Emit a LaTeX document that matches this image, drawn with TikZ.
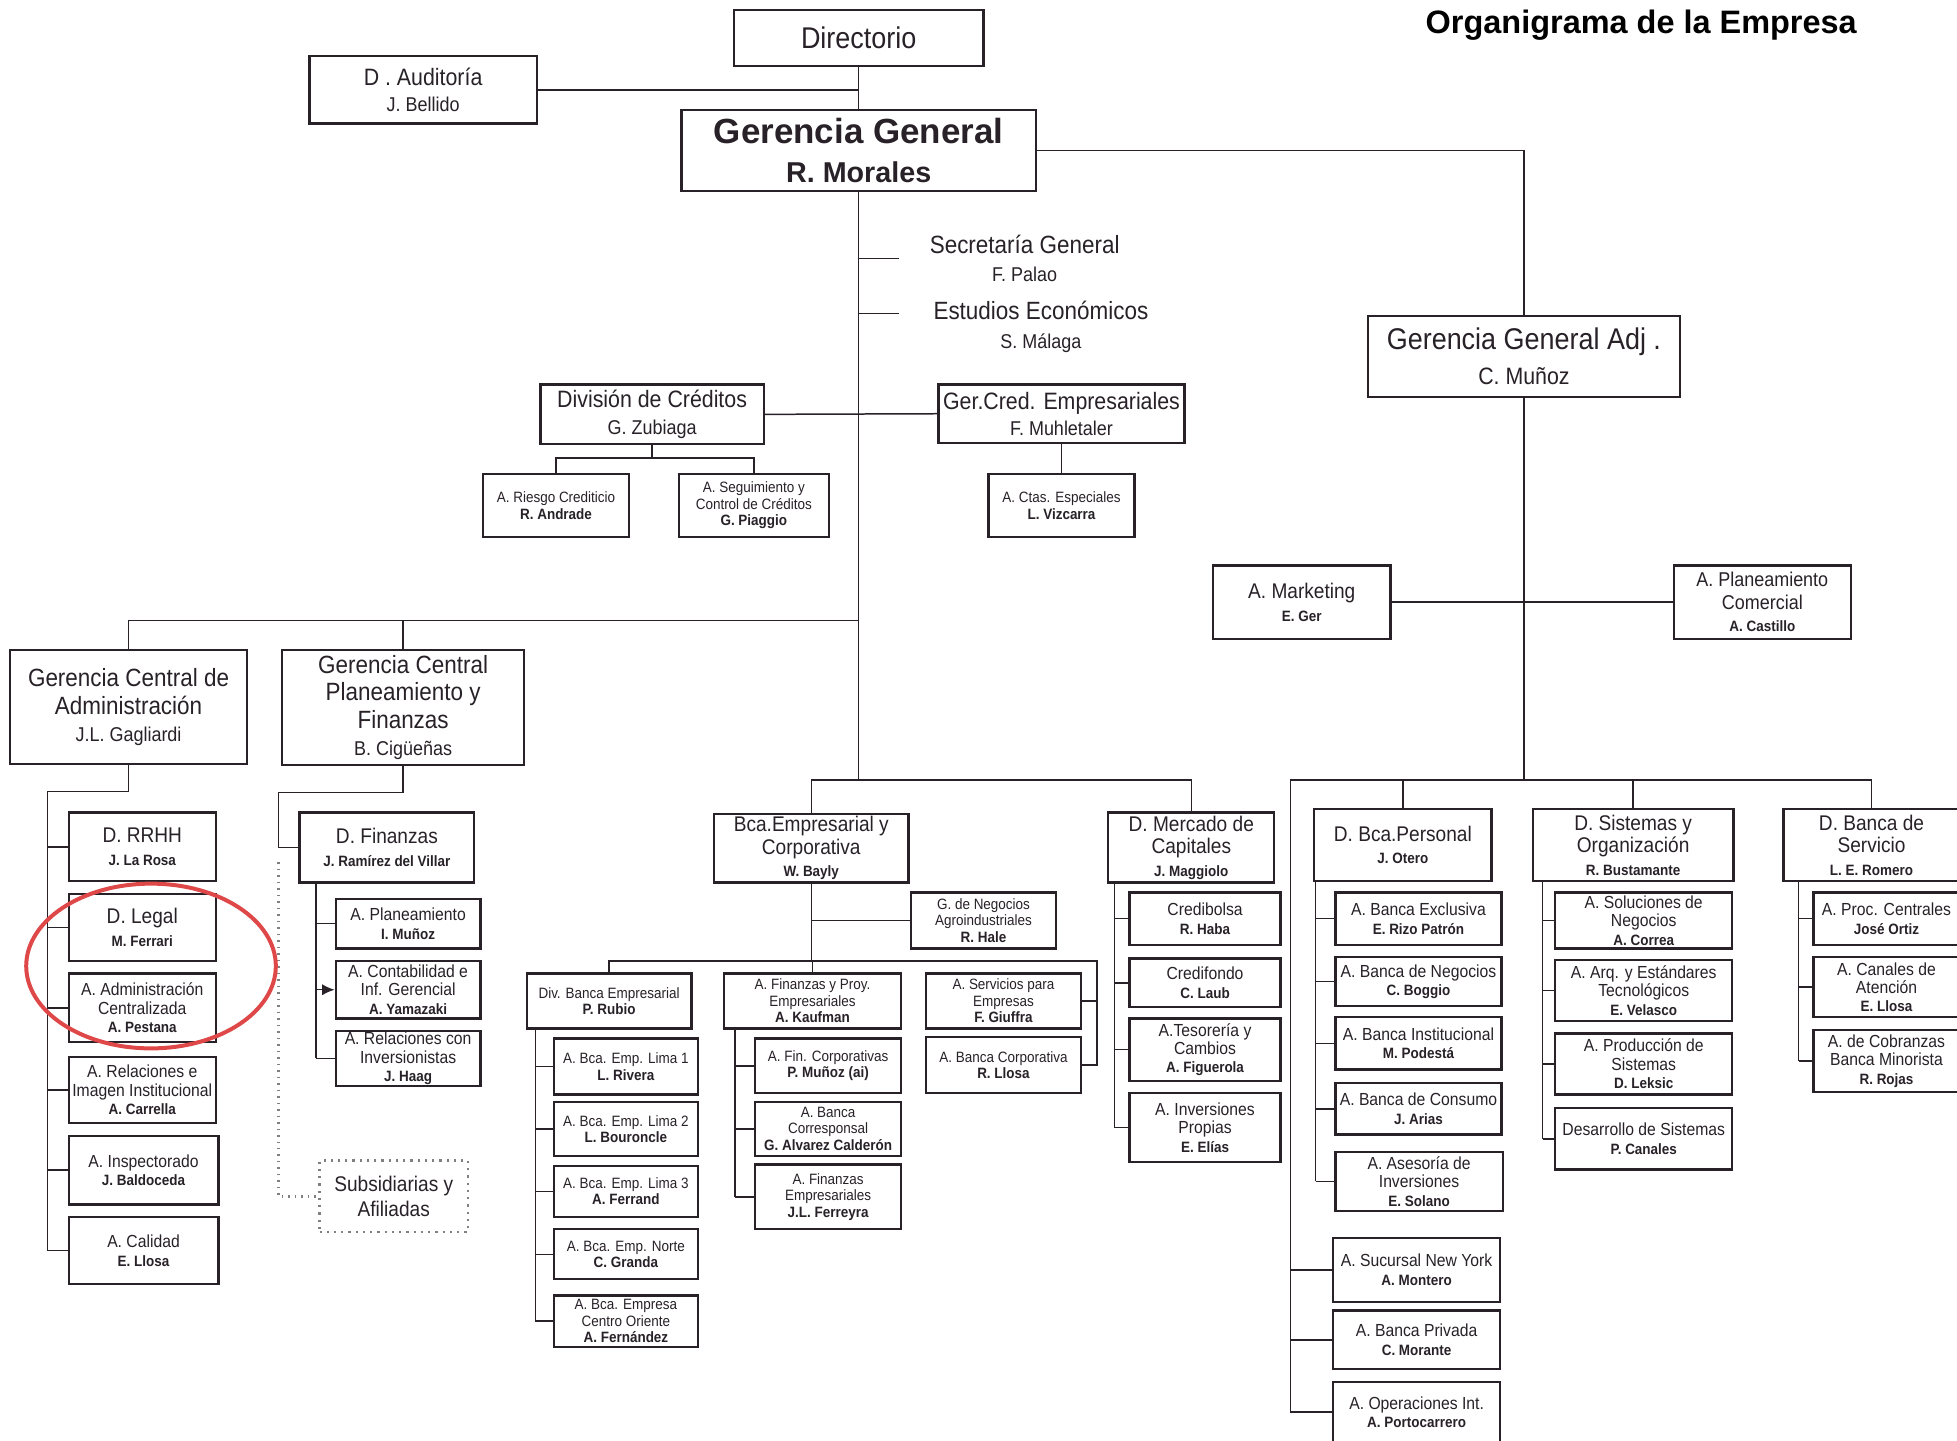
\documentclass[tikz,border=0pt]{standalone}
\usepackage{fontspec}
\setmainfont{Liberation Sans}[FakeStretch=0.9]
\newfontfamily\widefont{Liberation Sans}
\usetikzlibrary{arrows.meta, positioning}
\definecolor{ink}{RGB}{40,34,40}
\definecolor{markred}{RGB}{222,72,72}
\newcommand\fs[2]{\fontsize{#1}{#2}\selectfont}
\newcommand\who[1]{{\bfseries\fs{6}{7}#1}}

\begin{document}
\begin{tikzpicture}[x=0.5pt, y=-0.5pt,
  box/.style={draw=ink, line width=0.9pt, fill=white, inner sep=0pt, align=center, text=ink},
  wh/.style 2 args={minimum width=#1, minimum height=#2},
  lvltop/.style={box, font=\fs{12}{14}},
  lvlhead/.style={box, font=\fs{10}{11}},
  lvlmid/.style={box, font=\fs{9.5}{10.5}},
  lvldept/.style={box, font=\fs{8.5}{9}},
  lvlsub/.style={box, font=\fs{7}{7.4}},
  lvltiny/.style={box, font=\fs{6}{6.6}},
  staff/.style={text=ink, align=center, font=\fs{10}{11.5}},
  wire/.style={draw=ink, line width=0.6pt},
]
\useasboundingbox (0,0) rectangle (1568,1154);

\node[font=\widefont\bfseries\fs{13}{15}, anchor=base] (title) at (1315,27) {Organigrama de la Empresa};

% cabeza
\node[lvltop, wh={100pt}{22.5pt}] (dir) at (688,30.5) {Directorio};
\node[lvlmid, wh={91pt}{27pt}] (aud) at (339,72) {D . Auditoría\\{\fs{8}{9}J. Bellido}};
\node[box, wh={142pt}{32.5pt}, font=\widefont\bfseries\fs{14}{15.5}] (gg) at (688,120.5) {Gerencia General\\{\fs{11.5}{13}R. Morales}};
\node[staff] (secg) at (821,207) {Secretaría General\\{\fs{8}{9.5}F. Palao}};
\node[staff] (estu) at (834,262) {Estudios Económicos\\{\fs{8}{9.5}S. Málaga}};

% creditos
\node[lvlmid, wh={89.5pt}{24pt}] (divc) at (522.5,332) {División de Créditos\\{\fs{8}{9}G. Zubiaga}};
\node[lvlmid, wh={98.5pt}{23.5pt}] (gcred) at (850.5,331.5) {Ger.Cred. Empresariales\\{\fs{8}{9}F. Muhletaler}};
\node[lvltiny, wh={58.5pt}{25pt}] (riesgo) at (445.5,405) {A. Riesgo Crediticio\\\who{R. Andrade}};
\node[lvltiny, wh={60pt}{25pt}] (seguim) at (604,405) {A. Seguimiento y\\Control de Créditos\\\who{G. Piaggio}};
\node[lvltiny, wh={58.5pt}{25pt}] (ctas) at (850.5,405) {A. Ctas. Especiales\\\who{L. Vizcarra}};

% gerencia adjunta
\node[lvltop, wh={125pt}{32.5pt}] (gga) at (1221,285.5) {Gerencia General Adj .\\{\fs{9.5}{11}C. Muñoz}};
\node[lvldept, wh={71pt}{29.5pt}] (mkt) at (1043,482.5) {A. Marketing\\\who{E. Ger}};
\node[lvldept, wh={71pt}{29.5pt}, font=\fs{8}{9}] (plcom) at (1412,482.5) {A. Planeamiento\\Comercial\\\who{A. Castillo}};

% gerencias centrales
\node[lvlhead, wh={95pt}{45.5pt}] (gcadm) at (103,566.5) {Gerencia Central de\\Administración\\{\fs{8}{9}J.L. Gagliardi}};
\node[lvlhead, wh={97pt}{46pt}] (gcplan) at (323,567) {Gerencia Central\\Planeamiento y\\Finanzas\\{\fs{8}{9}B. Cigüeñas}};

\node[lvldept, wh={59pt}{27.5pt}] (rrhh) at (114,678.5) {D. RRHH\\\who{J. La Rosa}};
\node[lvldept, wh={59pt}{27pt}] (legal) at (114,743) {D. Legal\\\who{M. Ferrari}};
\node[lvlsub, wh={59pt}{27.5pt}] (admc) at (114,807.5) {A. Administración\\Centralizada\\\who{A. Pestana}};
\node[lvlsub, wh={59pt}{26.5pt}] (relim) at (114,873.5) {A. Relaciones e\\Imagen Institucional\\\who{A. Carrella}};
\node[lvlsub, wh={60pt}{27.5pt}] (insp) at (115,937.5) {A. Inspectorado\\\who{J. Baldoceda}};
\node[lvlsub, wh={60pt}{27pt}] (cal) at (115,1002) {A. Calidad\\\who{E. Llosa}};

\node[lvldept, wh={70pt}{28pt}] (fin) at (310,679) {D. Finanzas\\\who{J. Ramírez del Villar}};
\node[lvlsub, wh={58pt}{20pt}] (aplan) at (327,740) {A. Planeamiento\\\who{I. Muñoz}};
\node[lvlsub, wh={58pt}{23pt}] (acont) at (327,793) {A. Contabilidad e\\Inf. Gerencial\\\who{A. Yamazaki}};
\node[lvlsub, wh={58pt}{22pt}] (arel) at (327,848) {A. Relaciones con\\Inversionistas\\\who{J. Haag}};
\node[box, draw=gray, dotted, line width=1pt, wh={59.5pt}{28.5pt}, font=\fs{8.5}{10}] (subs) at (315.5,958.5) {Subsidiarias y\\Afiliadas};

% banca empresarial
\node[lvldept, wh={78pt}{27.5pt}] (bca) at (650,679.5) {Bca.Empresarial y\\Corporativa\\\who{W. Bayly}};
\node[lvltiny, wh={58pt}{22.5pt}] (agro) at (788,737.5) {G. de Negocios\\Agroindustriales\\\who{R. Hale}};
\node[lvltiny, wh={66pt}{22pt}] (divbe) at (488,802) {Div. Banca Empresarial\\\who{P. Rubio}};
\node[lvltiny, wh={71pt}{22pt}] (afin) at (651,802) {A. Finanzas y Proy.\\Empresariales\\\who{A. Kaufman}};
\node[lvltiny, wh={62pt}{22pt}] (aserv) at (804,802) {A. Servicios para\\Empresas\\\who{F. Giuffra}};
\node[lvltiny, wh={62pt}{22.5pt}] (abcorp) at (804,853.5) {A. Banca Corporativa\\\who{R. Llosa}};
\node[lvltiny, wh={57.5pt}{22.5pt}] (lima1) at (501.5,854.5) {A. Bca. Emp. Lima 1\\\who{L. Rivera}};
\node[lvltiny, wh={57.5pt}{21.5pt}] (lima2) at (501.5,904.5) {A. Bca. Emp. Lima 2\\\who{L. Bouroncle}};
\node[lvltiny, wh={57.5pt}{20.5pt}] (lima3) at (501.5,954.5) {A. Bca. Emp. Lima 3\\\who{A. Ferrand}};
\node[lvltiny, wh={57.5pt}{20pt}] (norte) at (501.5,1005) {A. Bca. Emp. Norte\\\who{C. Granda}};
\node[lvltiny, wh={57.5pt}{20.5pt}] (centro) at (501.5,1058.5) {A. Bca. Empresa\\Centro Oriente\\\who{A. Fernández}};
\node[lvltiny, wh={58.5pt}{22pt}] (fincorp) at (663.5,854) {A. Fin. Corporativas\\\who{P. Muñoz (ai)}};
\node[lvltiny, wh={58.5pt}{21.5pt}] (corresp) at (663.5,904.5) {A. Banca\\Corresponsal\\\who{G. Alvarez Calderón}};
\node[lvltiny, wh={58.5pt}{26pt}] (finemp) at (663.5,959) {A. Finanzas\\Empresariales\\\who{J.L. Ferreyra}};

% mercado de capitales
\node[lvldept, wh={66.5pt}{28pt}] (dmc) at (954.5,679) {D. Mercado de\\Capitales\\\who{J. Maggiolo}};
\node[lvlsub, wh={60.5pt}{21pt}] (credb) at (965.5,736) {Credibolsa\\\who{R. Haba}};
\node[lvlsub, wh={60.5pt}{19.5pt}] (credf) at (965.5,787.5) {Credifondo\\\who{C. Laub}};
\node[lvlsub, wh={60.5pt}{25pt}] (tesor) at (965.5,841) {A.Tesorería y\\Cambios\\\who{A. Figuerola}};
\node[lvlsub, wh={60.5pt}{27.5pt}] (inver) at (965.5,903.5) {A. Inversiones\\Propias\\\who{E. Elías}};

% banca personal
\node[lvldept, wh={71pt}{29pt}] (dbp) at (1124,677) {D. Bca.Personal\\\who{J. Otero}};
\node[lvlsub, wh={66.5pt}{21pt}] (bexcl) at (1136.5,736) {A. Banca Exclusiva\\\who{E. Rizo Patrón}};
\node[lvlsub, wh={66.5pt}{19.5pt}] (bneg) at (1136.5,786.5) {A. Banca de Negocios\\\who{C. Boggio}};
\node[lvlsub, wh={66.5pt}{21pt}] (binst) at (1136.5,836) {A. Banca Institucional\\\who{M. Podestá}};
\node[lvlsub, wh={66.5pt}{20.5pt}] (bcons) at (1136.5,888.5) {A. Banca de Consumo\\\who{J. Arias}};
\node[lvlsub, wh={67pt}{23.5pt}] (aseso) at (1137,946.5) {A. Asesoría de\\Inversiones\\\who{E. Solano}};
\node[lvlsub, wh={67pt}{25.5pt}] (nyork) at (1135,1017.5) {A. Sucursal New York\\\who{A. Montero}};
\node[lvlsub, wh={67pt}{23.5pt}] (bpriv) at (1135,1073.5) {A. Banca Privada\\\who{C. Morante}};
\node[lvlsub, wh={67pt}{24.5pt}] (opint) at (1135,1131.5) {A. Operaciones Int.\\\who{A. Portocarrero}};

% sistemas
\node[lvldept, wh={80.5pt}{29pt}] (dsis) at (1308.5,677) {D. Sistemas y\\Organización\\\who{R. Bustamante}};
\node[lvlsub, wh={71pt}{22.5pt}] (asol) at (1317,737.5) {A. Soluciones de\\Negocios\\\who{A. Correa}};
\node[lvlsub, wh={71pt}{24.5pt}] (aarq) at (1317,793.5) {A. Arq. y Estándares\\Tecnológicos\\\who{E. Velasco}};
\node[lvlsub, wh={71pt}{24.5pt}] (aprod) at (1317,852.5) {A. Producción de\\Sistemas\\\who{D. Leksic}};
\node[lvlsub, wh={71pt}{24.5pt}] (desa) at (1317,912.5) {Desarrollo de Sistemas\\\who{P. Canales}};

% banca de servicio
\node[lvldept, wh={70.5pt}{29pt}] (dbs) at (1499.5,677) {D. Banca de\\Servicio\\\who{L. E. Romero}};
\node[lvlsub, wh={58.5pt}{21pt}] (proc) at (1511.5,736) {A. Proc. Centrales\\\who{José Ortiz}};
\node[lvlsub, wh={58.5pt}{24pt}] (canal) at (1511.5,791) {A. Canales de\\Atención\\\who{E. Llosa}};
\node[lvlsub, wh={58.5pt}{25pt}] (cobr) at (1511.5,850) {A. de Cobranzas\\Banca Minorista\\\who{R. Rojas}};

% buses
\coordinate (lbus) at (688,497);
\coordinate (mbus) at (688,625);
\coordinate (rbus) at (1221,625);
\coordinate (rbus0) at (1034,625);
\coordinate (dcbus) at (524,367);
\coordinate (admbus) at (38,634);
\coordinate (plnbus) at (223,635);
\coordinate (finbus) at (253,707);
\coordinate (bcbus) at (650,770);
\coordinate (bcend) at (879,770);
\coordinate (dbebus) at (429,824);
\coordinate (afinbus) at (589,824);
\coordinate (dmcbus) at (893,707);
\coordinate (dbpbus) at (1054,706);
\coordinate (dsisbus) at (1236,706);
\coordinate (dbsbus) at (1441,706);

% lineas
\draw[wire] (dir.south) -- (gg.north);
\draw[wire] (aud.east) -- (aud.east -| dir.south);
\draw[wire] (gg.south) -- (mbus);
\draw[wire] (gg.east) -| (gga.north);
\draw[wire] (gg.south |- secg) -- +(32,0);
\draw[wire] (gg.south |- estu) ++(0,-11) -- +(32,0);
\draw[wire] (divc.east) -- (gcred.west);
\draw[wire] (divc.south) -- (divc.south |- dcbus);
\draw[wire] (riesgo.north) |- (dcbus) -| (seguim.north);
\draw[wire] (gcred.south) -- (ctas.north);

\draw[wire] (gga.south) -- (rbus);
\draw[wire] (mkt.east) -- (plcom.west);

\draw[wire] (gcadm.north) |- (lbus);
\draw[wire] (gcplan.north) -- (gcplan.north |- lbus);
\draw[wire] (gcadm.south) |- (admbus) -- (admbus |- cal.west);
\foreach \b in {rrhh,legal,admc,relim,insp,cal}
  \draw[wire] (admbus |- \b.west) -- (\b.west);
\draw[wire] (gcplan.south) |- (plnbus) |- (fin.west);
\draw[wire, gray, dotted, line width=1pt] (plnbus |- fin.west) ++(0,12) -- (plnbus |- subs.west) -- (subs.west);
\draw[wire] (finbus) -- (finbus |- arel.west);
\foreach \b in {aplan,arel}
  \draw[wire] (finbus |- \b.west) -- (\b.west);
\draw[wire, -{Latex[length=5pt,width=4.5pt]}] (finbus |- acont.west) -- (acont.west);

\draw[wire] (bca.north) |- (mbus) -| (dmc.north);
\draw[wire] (bca.south) -- (bcbus);
\draw[wire] (bca.south |- agro.west) -- (agro.west);
\draw[wire] (divbe.north) |- (bcend) |- (abcorp.east);
\draw[wire] (afin.north) -- (afin.north |- bcbus);
\draw[wire] (aserv.east) -- (aserv.east -| bcend);
\draw[wire] (dbebus) -- (dbebus |- centro.west);
\foreach \b in {lima1,lima2,lima3,norte,centro}
  \draw[wire] (dbebus |- \b.west) -- (\b.west);
\draw[wire] (afinbus) -- (afinbus |- finemp.west);
\foreach \b in {fincorp,corresp,finemp}
  \draw[wire] (afinbus |- \b.west) -- (\b.west);
\draw[wire] (dmcbus) -- (dmcbus |- inver.west);
\foreach \b in {credb,credf,tesor,inver}
  \draw[wire] (dmcbus |- \b.west) -- (\b.west);

\draw[wire] (opint.west) -| (rbus0) -| (dbs.north);
\foreach \b in {nyork,bpriv}
  \draw[wire] (rbus0 |- \b.west) -- (\b.west);
\draw[wire] (dbp.north) -- (dbp.north |- rbus0);
\draw[wire] (dsis.north) -- (dsis.north |- rbus0);
\draw[wire] (dbpbus) -- (dbpbus |- aseso.west);
\foreach \b in {bexcl,bneg,binst,bcons,aseso}
  \draw[wire] (dbpbus |- \b.west) -- (\b.west);
\draw[wire] (dsisbus) -- (dsisbus |- desa.west);
\foreach \b in {asol,aarq,aprod,desa}
  \draw[wire] (dsisbus |- \b.west) -- (\b.west);
\draw[wire] (dbsbus) -- (dbsbus |- cobr.west);
\foreach \b in {proc,canal,cobr}
  \draw[wire] (dbsbus |- \b.west) -- (\b.west);

% marca roja
\draw[markred, line width=1.6pt] (121,774) ellipse [x radius=50pt, y radius=33pt];
\end{tikzpicture}
\end{document}
